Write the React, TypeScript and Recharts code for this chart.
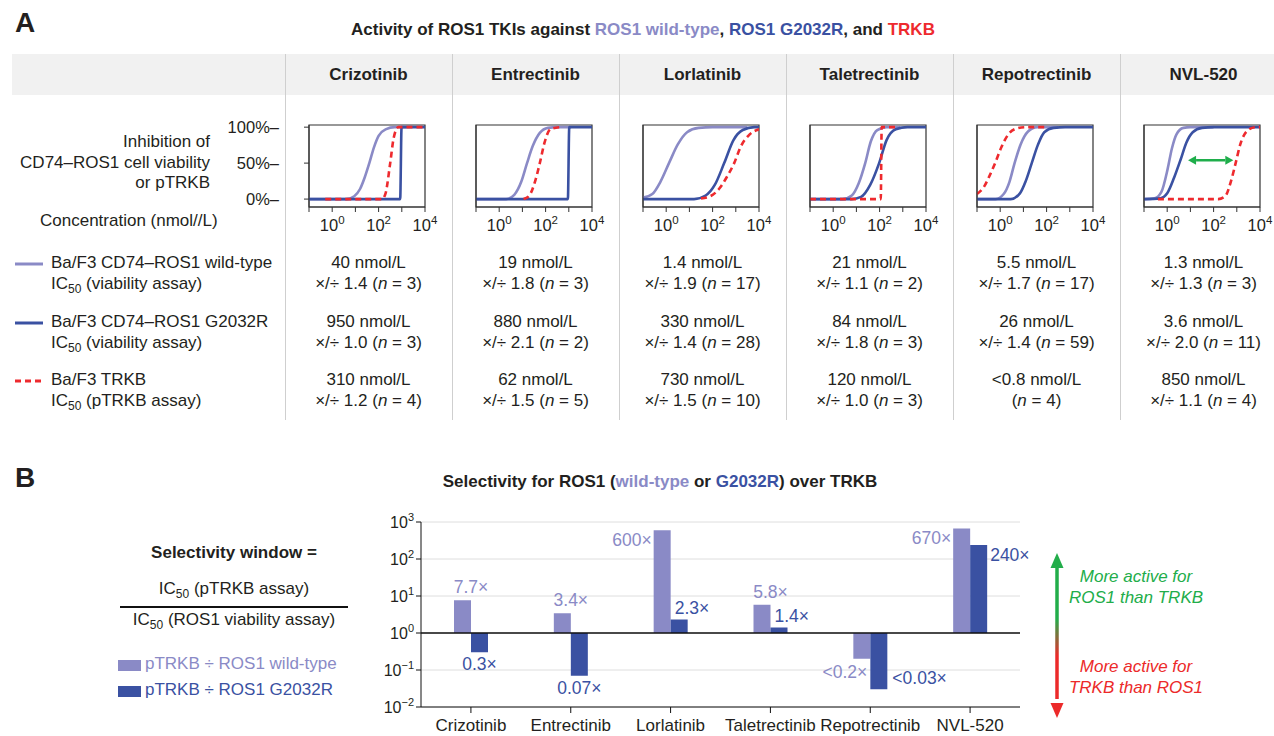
import React from 'react'
import {
  LineChart, Line, XAxis, YAxis, ReferenceArea, ReferenceLine,
  BarChart, Bar, CartesianGrid, LabelList,
} from 'recharts'

const FONT = '"Liberation Sans", Arial, Helvetica, sans-serif'
const WT = '#8a8ac6'
const G2032R = '#3a51a2'
const TRKB = '#ee2a2e'
const GREEN = '#1fae4b'
const TEXT = '#231f20'

const drugs = ['Crizotinib', 'Entrectinib', 'Lorlatinib', 'Taletrectinib', 'Repotrectinib', 'NVL-520']

// dose-response curves: [log10 nmol/L, % inhibition]
const wtCurves = [
  [[-1, 0], [0.6, 0], [0.95, 4], [1.2, 14], [1.4, 30], [1.6, 50], [1.8, 72], [2.0, 88], [2.3, 97], [2.7, 100], [3.2, 100]],
  [[-1, 0], [0.3, 0], [0.65, 6], [0.95, 24], [1.2, 50], [1.45, 74], [1.75, 92], [2.1, 99], [2.5, 100], [3.1, 100]],
  [[-1, 2], [-0.6, 7], [-0.25, 24], [0.12, 50], [0.5, 76], [0.9, 93], [1.4, 99], [2, 100], [3.5, 100]],
  [[-1, 0], [0.4, 0], [0.8, 5], [1.1, 22], [1.38, 50], [1.62, 80], [1.9, 96], [2.3, 100], [2.9, 100]],
  [[-1, 0], [-0.2, 0], [0.15, 7], [0.4, 24], [0.62, 50], [0.88, 76], [1.2, 94], [1.6, 100], [2.5, 100]],
  [[-1, 0], [-0.55, 1], [-0.25, 10], [0.02, 42], [0.2, 70], [0.4, 90], [0.7, 99], [1, 100], [2, 100]],
]
const g2032rCurves = [
  [[-1, 0], [2.93, 0], [2.99, 100], [4, 100]],
  [[-1, 0], [2.96, 0], [3.02, 100], [4, 100]],
  [[-1, 0], [1.2, 0], [1.7, 5], [2.1, 20], [2.5, 50], [2.9, 82], [3.3, 96], [3.8, 100], [4, 100]],
  [[-1, 0], [0.8, 0], [1.2, 3], [1.6, 20], [1.98, 50], [2.3, 82], [2.7, 97], [3.2, 100], [4, 100]],
  [[-1, 0], [0.45, 0], [0.85, 8], [1.1, 25], [1.36, 50], [1.62, 75], [1.9, 93], [2.3, 99], [2.8, 100], [4, 100]],
  [[-1, 0], [-0.3, 1], [0, 8], [0.3, 30], [0.58, 55], [0.82, 78], [1.1, 93], [1.5, 99], [2, 100], [4, 100]],
]
const trkbCurves = [
  [[-0.3, 0], [2.15, 0], [2.3, 8], [2.5, 50], [2.65, 85], [2.85, 100], [4, 100]],
  [[1.05, 0], [1.3, 5], [1.55, 25], [1.75, 50], [1.95, 78], [2.2, 97], [2.6, 100]],
  [[1.5, 1], [1.9, 4], [2.3, 15], [2.6, 30], [2.93, 50], [3.2, 72], [3.6, 90], [4, 97]],
  [[-1, 0], [2.05, 0], [2.09, 100], [2.8, 100]],
  [[-1, 7], [-0.7, 17], [-0.45, 33], [-0.22, 50], [0.05, 72], [0.35, 90], [0.7, 98], [1.1, 100], [1.9, 100]],
  [[-0.4, 0], [2.2, 0], [2.5, 4], [2.75, 25], [2.95, 50], [3.15, 76], [3.45, 95], [3.8, 100], [4, 100]],
]
const nvlWindow = [{ x: 0.9, y: 54 }, { x: 2.85, y: 54 }]

// IC50 table
const wtIC50 = ['40 nmol/L', '19 nmol/L', '1.4 nmol/L', '21 nmol/L', '5.5 nmol/L', '1.3 nmol/L']
const wtSpread = ['1.4', '1.8', '1.9', '1.1', '1.7', '1.3']
const wtN = [3, 3, 17, 2, 17, 3]
const g2032rIC50 = ['950 nmol/L', '880 nmol/L', '330 nmol/L', '84 nmol/L', '26 nmol/L', '3.6 nmol/L']
const g2032rSpread = ['1.0', '2.1', '1.4', '1.8', '1.4', '2.0']
const g2032rN = [3, 2, 28, 3, 59, 11]
const trkbIC50 = ['310 nmol/L', '62 nmol/L', '730 nmol/L', '120 nmol/L', '<0.8 nmol/L', '850 nmol/L']
const trkbSpread = ['1.2', '1.5', '1.5', '1.0', null, '1.1']
const trkbN = [4, 5, 10, 3, 4, 4]

// panel B selectivity windows
const wtSelectivity = [7.7, 3.4, 600, 5.8, 0.2, 670]
const g2032rSelectivity = [0.3, 0.07, 2.3, 1.4, 0.03, 240]
const wtLabels = ['7.7×', '3.4×', '600×', '5.8×', '<0.2×', '670×']
const g2032rLabels = ['0.3×', '0.07×', '2.3×', '1.4×', '<0.03×', '240×']
const wtPlace = ['edge', 'edge', 'leftTop', 'edge', 'leftBottom', 'leftTop']
const g2032rPlace = ['below', 'below', 'aboveRight', 'aboveRight', 'rightBottom', 'rightTop']
const logTicks = [0.01, 0.1, 1, 10, 100, 1000]

const COL0 = 285
const COL_W = 167
const BOX_W = 116
const BOX_H = 82
const BOX_TOP = 125

const pts = (a: number[][]) => a.map(([x, y]) => ({ x, y }))

const DecadeTick = (p: any) => {
  const v = p.payload.value
  if (v < 0 || v % 2 !== 0) return null
  return (
    <text x={p.x} y={p.y} dy={17} textAnchor="middle" fill={TEXT} fontSize={16.5} fontFamily={FONT}>
      10<tspan dy={-7} fontSize={11.5}>{v}</tspan>
    </text>
  )
}

const PctTick = (p: any) => (
  <text x={p.x - 23} y={p.y} dy={5.5} textAnchor="end" fill={TEXT} fontSize={16.5} fontFamily={FONT}>
    {p.payload.value}%–
  </text>
)

const DoubleArrow = (p: any) => {
  const { x1, y1, x2, y2 } = p
  const h = 8, w = 4.5
  return (
    <g>
      <line x1={x1 + h} y1={y1} x2={x2 - h} y2={y2} stroke={GREEN} strokeWidth={2.5} />
      <polygon points={`${x1},${y1} ${x1 + h},${y1 - w} ${x1 + h},${y1 + w}`} fill={GREEN} />
      <polygon points={`${x2},${y2} ${x2 - h},${y2 - w} ${x2 - h},${y2 + w}`} fill={GREEN} />
    </g>
  )
}

function DoseChart({ i }: { i: number }) {
  const first = i === 0
  const yw = first ? 90 : 6
  const boxLeft = COL0 + i * COL_W + 24
  const mt = 14
  const mr = 16
  return (
    <div style={{ position: 'absolute', left: boxLeft - yw, top: BOX_TOP - mt }}>
      <LineChart width={yw + BOX_W + mr} height={mt + BOX_H + 34} margin={{ top: mt, right: mr, bottom: 0, left: 0 }}>
        <XAxis type="number" dataKey="x" domain={[-1, 4]} ticks={[-1, 0, 1, 2, 3, 4]} allowDataOverflow
          height={34} tickSize={5} stroke="#333" tick={<DecadeTick />} interval={0} />
        <YAxis type="number" domain={[-11, 103]} ticks={[0, 50, 100]} allowDataOverflow width={yw}
          tickSize={5} stroke="#333" tick={first ? <PctTick /> : false} interval={0} />
        <ReferenceArea x1={-1} x2={4} y1={-11} y2={103} fill="none" stroke="#333" strokeWidth={1.2} ifOverflow="visible" />
        <Line data={pts(wtCurves[i])} dataKey="y" type="monotone" stroke={WT} strokeWidth={2.6} dot={false} isAnimationActive={false} />
        <Line data={pts(g2032rCurves[i])} dataKey="y" type="monotone" stroke={G2032R} strokeWidth={2.6} dot={false} isAnimationActive={false} />
        <Line data={pts(trkbCurves[i])} dataKey="y" type="monotone" stroke={TRKB} strokeWidth={2.6} strokeDasharray="6 4" dot={false} isAnimationActive={false} />
        {i === 5 && <ReferenceLine segment={nvlWindow} shape={DoubleArrow} ifOverflow="visible" />}
      </LineChart>
    </div>
  )
}

const PowTick = (p: any) => {
  const e = Math.round(Math.log10(p.payload.value))
  return (
    <text x={p.x} y={p.y} dy={5.5} textAnchor="end" fill={TEXT} fontSize={16} fontFamily={FONT}>
      10<tspan dy={-7} fontSize={11}>{e < 0 ? `−${-e}` : e}</tspan>
    </text>
  )
}

function barLabel(p: any, series: 'wt' | 'g') {
  const vb = p.viewBox ?? p
  const x = vb.x ?? p.x
  const y = vb.y ?? p.y
  const w = vb.width ?? p.width
  const h = vb.height ?? p.height
  const i = p.index
  const top = Math.min(y, y + h)
  const bot = Math.max(y, y + h)
  const text = series === 'wt' ? wtLabels[i] : g2032rLabels[i]
  const place = series === 'wt' ? wtPlace[i] : g2032rPlace[i]
  const fill = series === 'wt' ? WT : G2032R
  let lx = x + w / 2, ly = top - 12, anchor: 'start' | 'middle' | 'end' = 'middle'
  if (place === 'edge') { lx = x + w; ly = top - 13 }
  if (place === 'below') { lx = x + w / 2; ly = bot + 12 }
  if (place === 'leftTop') { lx = x - 2; ly = top + 10; anchor = 'end' }
  if (place === 'leftBottom') { lx = x + 14; ly = bot + 13; anchor = 'end' }
  if (place === 'aboveRight') { lx = x + 4; ly = top - 12; anchor = 'start' }
  if (place === 'rightTop') { lx = x + w + 3; ly = top + 10; anchor = 'start' }
  if (place === 'rightBottom') { lx = x + w + 5; ly = bot - 11; anchor = 'start' }
  return (
    <text key={`${series}${i}`} x={lx} y={ly} dy={6} textAnchor={anchor} fill={fill} fontSize={17.5} fontFamily={FONT}>
      {text}
    </text>
  )
}

const barData = drugs.map((name, i) => ({ name, wt: wtSelectivity[i], g: g2032rSelectivity[i] }))

function SelectivityChart() {
  return (
    <div style={{ position: 'absolute', left: 360, top: 510 }}>
      <BarChart width={680} height={226} data={barData} margin={{ top: 12, right: 20, bottom: 0, left: 0 }}
        barGap={0} barSize={17}>
        <CartesianGrid vertical={false} stroke="#dedede" />
        <XAxis dataKey="name" height={29} tickSize={6} tickMargin={6} stroke="#111" interval={0}
          tick={{ fontSize: 17, fill: TEXT, fontFamily: FONT }} />
        <YAxis scale="log" type="number" domain={[0.01, 1000]} ticks={logTicks} allowDataOverflow width={61}
          tickSize={5} stroke="#111" tick={<PowTick />} interval={0} />
        <ReferenceLine y={1} stroke="#111" strokeWidth={1.5} />
        <Bar dataKey={(d: any) => [1, d.wt]} fill={WT} isAnimationActive={false}>
          <LabelList content={(p: any) => barLabel(p, 'wt')} />
        </Bar>
        <Bar dataKey={(d: any) => [1, d.g]} fill={G2032R} isAnimationActive={false}>
          <LabelList content={(p: any) => barLabel(p, 'g')} />
        </Bar>
      </BarChart>
    </div>
  )
}

const abs = (left: number, top: number, extra: React.CSSProperties = {}): React.CSSProperties => ({
  position: 'absolute', left, top, ...extra,
})

const IC = () => <>IC<sub style={{ fontSize: 12, lineHeight: 0 }}>50</sub></>

function Cell2({ i, a, s, n, top }: { i: number; a: string; s: string | null; n: number; top: number }) {
  return (
    <div style={abs(COL0 + i * COL_W, top, { width: COL_W, textAlign: 'center', lineHeight: '21px' })}>
      <div>{a}</div>
      <div>{s ? `×/÷ ${s} ` : ''}(<i>n</i> = {n})</div>
    </div>
  )
}

const rowTops = [252, 311, 369]

export default function App() {
  return (
    <div style={{ position: 'absolute', left: 0, top: 0, width: 1274, height: 736, background: '#fff',
      fontFamily: FONT, fontSize: 17, color: TEXT, overflow: 'hidden' }}>
      {/* panel A */}
      <div style={abs(15, 7, { fontSize: 28, fontWeight: 'bold' })}>A</div>
      <div style={abs(12, 20, { width: 1262, textAlign: 'center', fontWeight: 'bold', fontSize: 17 })}>
        Activity of ROS1 TKIs against <span style={{ color: WT }}>ROS1 wild-type</span>,{' '}
        <span style={{ color: G2032R }}>ROS1 G2032R</span>, and <span style={{ color: TRKB }}>TRKB</span>
      </div>
      <div style={abs(12, 54, { width: 1262, height: 41, background: '#f1f1f1' })} />
      {drugs.map((d, i) => (
        <div key={d} style={abs(COL0 + i * COL_W, 54, { width: COL_W, lineHeight: '41px', textAlign: 'center', fontWeight: 'bold' })}>
          {d}
        </div>
      ))}
      {drugs.map((d, i) => (
        <div key={d + 'l'} style={abs(COL0 + i * COL_W, 54, { width: 1, height: 366, background: '#cfcfcf' })} />
      ))}
      <div style={abs(0, 132, { width: 210, textAlign: 'right', lineHeight: '20.5px' })}>
        Inhibition of<br />CD74–ROS1 cell viability<br />or pTRKB
      </div>
      <div style={abs(40, 211)}>Concentration (nmol//L)</div>
      {drugs.map((d, i) => <DoseChart key={d + 'c'} i={i} />)}

      <svg style={abs(0, 250)} width={50} height={160}>
        <line x1={15} x2={43} y1={14} y2={14} stroke={WT} strokeWidth={3} />
        <line x1={15} x2={43} y1={73} y2={73} stroke={G2032R} strokeWidth={3} />
        <line x1={15} x2={43} y1={131} y2={131} stroke={TRKB} strokeWidth={3} strokeDasharray="6 4" />
      </svg>
      <div style={abs(51, rowTops[0], { lineHeight: '21px' })}>Ba/F3 CD74–ROS1 wild-type<br /><IC /> (viability assay)</div>
      <div style={abs(51, rowTops[1], { lineHeight: '21px' })}>Ba/F3 CD74–ROS1 G2032R<br /><IC /> (viability assay)</div>
      <div style={abs(51, rowTops[2], { lineHeight: '21px' })}>Ba/F3 TRKB<br /><IC /> (pTRKB assay)</div>
      {drugs.map((d, i) => (
        <React.Fragment key={d + 'v'}>
          <Cell2 i={i} a={wtIC50[i]} s={wtSpread[i]} n={wtN[i]} top={rowTops[0]} />
          <Cell2 i={i} a={g2032rIC50[i]} s={g2032rSpread[i]} n={g2032rN[i]} top={rowTops[1]} />
          <Cell2 i={i} a={trkbIC50[i]} s={trkbSpread[i]} n={trkbN[i]} top={rowTops[2]} />
        </React.Fragment>
      ))}

      {/* panel B */}
      <div style={abs(15, 462, { fontSize: 28, fontWeight: 'bold' })}>B</div>
      <div style={abs(360, 472, { width: 600, textAlign: 'center', fontWeight: 'bold', fontSize: 17 })}>
        Selectivity for ROS1 (<span style={{ color: WT }}>wild-type</span> or{' '}
        <span style={{ color: G2032R }}>G2032R</span>) over TRKB
      </div>
      <div style={abs(114, 543, { width: 240, textAlign: 'center', fontWeight: 'bold' })}>Selectivity window =</div>
      <div style={abs(114, 579, { width: 240, textAlign: 'center' })}><IC /> (pTRKB assay)</div>
      <div style={abs(120, 606, { width: 228, height: 1.5, background: '#111' })} />
      <div style={abs(114, 610, { width: 240, textAlign: 'center' })}><IC /> (ROS1 viability assay)</div>
      <div style={abs(118, 660, { width: 23, height: 11, background: WT })} />
      <div style={abs(145, 654, { color: WT })}>pTRKB ÷ ROS1 wild-type</div>
      <div style={abs(118, 686, { width: 23, height: 11, background: G2032R })} />
      <div style={abs(145, 680, { color: G2032R })}>pTRKB ÷ ROS1 G2032R</div>
      <SelectivityChart />

      <svg style={abs(1040, 545)} width={30} height={180}>
        <defs>
          <linearGradient id="gr" x1="0" y1="0" x2="0" y2="1">
            <stop offset="0.4" stopColor="#22ad4a" />
            <stop offset="0.68" stopColor="#ec2a2a" />
          </linearGradient>
        </defs>
        <rect x={15.25} y={20} width={3.5} height={134} fill="url(#gr)" />
        <polygon points="17,8 10.5,23 23.5,23" fill="#22ad4a" />
        <polygon points="17,173 10.5,158 23.5,158" fill="#ec2a2a" />
      </svg>
      <div style={abs(1066, 566, { width: 140, textAlign: 'center', fontStyle: 'italic', fontSize: 17, lineHeight: '21px', color: '#22ad4a' })}>
        More active for<br />ROS1 than TRKB
      </div>
      <div style={abs(1066, 656, { width: 140, textAlign: 'center', fontStyle: 'italic', fontSize: 17, lineHeight: '21px', color: '#ec2a2a' })}>
        More active for<br />TRKB than ROS1
      </div>
    </div>
  )
}
